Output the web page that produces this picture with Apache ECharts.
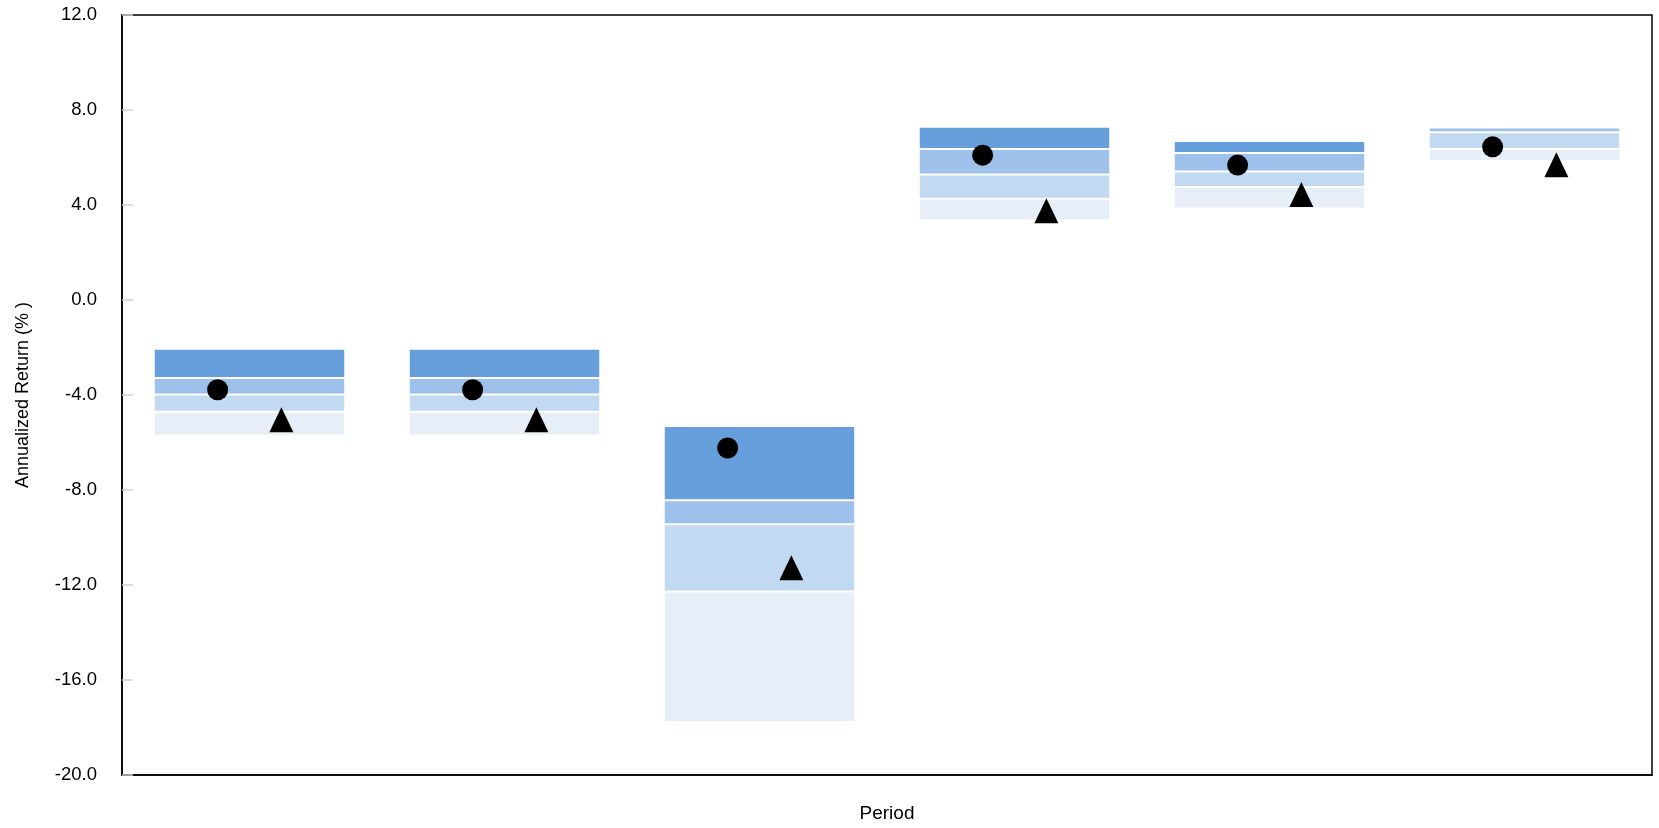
<!DOCTYPE html>
<html>
<head>
<meta charset="utf-8">
<script src="https://cdn.jsdelivr.net/npm/echarts@6/dist/echarts.min.js"></script>
<style>
html,body{margin:0;padding:0;background:#fff;}
#chart{width:1659px;height:828px;}
</style>
</head>
<body>
<div id="chart"></div>
<script>
const categories = ['Period 1', 'Period 2', 'Period 3', 'Period 4', 'Period 5', 'Period 6'];
const p05 = [-2.05, -2.05, -5.30, 7.29, 6.70, 7.26];
const p25 = [-3.28, -3.28, -8.43, 6.36, 6.19, 7.26];
const p50 = [-3.98, -3.98, -9.44, 5.28, 5.41, 7.06];
const p75 = [-4.71, -4.71, -12.27, 4.26, 4.76, 6.36];
const p95 = [-5.70, -5.70, -17.77, 3.36, 3.85, 5.85];
const portfolio = [-3.78, -3.78, -6.23, 6.10, 5.68, 6.45];
const benchmark = [-5.04, -5.04, -11.27, 3.76, 4.44, 5.70];
const yTicks = { min: -20, max: 12, interval: 4 };

const bandColors = ['#669fdb', '#9dc1ea', '#c2d9f2', '#e6eef8'];
const FONT = "'Liberation Sans', Arial, sans-serif";

const boxData = categories.map((c, i) => [i, p05[i], p25[i], p50[i], p75[i], p95[i]]);
const markerData = categories.map((c, i) => [i, portfolio[i], benchmark[i]]);

const chart = echarts.init(document.getElementById('chart'), null, { renderer: 'canvas' });
chart.setOption({
  animation: false,
  backgroundColor: '#fff',
  grid: { left: 122, right: 7, top: 15, bottom: 51, show: true, borderColor: '#000', borderWidth: 1.5, backgroundColor: 'transparent' },
  xAxis: {
    type: 'category',
    data: categories,
    name: 'Period',
    nameLocation: 'middle',
    nameGap: 29,
    nameTextStyle: { fontFamily: FONT, fontSize: 19, color: '#000' },
    axisLine: { show: true, onZero: false, lineStyle: { color: '#000', width: 1.5 } },
    axisTick: { show: false },
    axisLabel: { show: false },
    splitLine: { show: false }
  },
  yAxis: {
    type: 'value',
    min: yTicks.min, max: yTicks.max, interval: yTicks.interval,
    name: 'Annualized Return (% )',
    nameLocation: 'middle',
    nameGap: 90,
    nameTextStyle: { fontFamily: FONT, fontSize: 18, color: '#000' },
    axisLine: { show: true, lineStyle: { color: '#000', width: 1.5 } },
    axisTick: { show: true, inside: true, length: 11, lineStyle: { color: '#d0d0d0', width: 1.5 } },
    axisLabel: { fontFamily: FONT, fontSize: 18.5, color: '#000', margin: 25, formatter: v => v.toFixed(1) },
    splitLine: { show: false }
  },
  series: [
    {
      type: 'custom',
      data: boxData,
      encode: { x: 0, y: [1, 2, 3, 4, 5] },
      renderItem: function (params, api) {
        const idx = api.value(0);
        const band = api.size([1, 0])[0];
        const w = band * 0.743;
        const cx = api.coord([idx, 0])[0];
        const vals = [api.value(1), api.value(2), api.value(3), api.value(4), api.value(5)];
        const children = [];
        for (let k = 0; k < 4; k++) {
          const yTop = api.coord([idx, vals[k]])[1];
          const yBot = api.coord([idx, vals[k + 1]])[1];
          const h = yBot - yTop - 2;
          if (h <= 0) continue;
          children.push({
            type: 'rect',
            shape: { x: cx - w / 2, y: yTop + 1, width: w, height: h },
            style: { fill: bandColors[k] }
          });
        }
        return { type: 'group', children: children };
      },
      z: 2
    },
    {
      type: 'custom',
      data: markerData,
      encode: { x: 0, y: [1, 2] },
      renderItem: function (params, api) {
        const idx = api.value(0);
        const band = api.size([1, 0])[0];
        const off = band * 0.125;
        const pc = api.coord([idx, api.value(1)]);
        const bc = api.coord([idx, api.value(2)]);
        const tw = 24, th = 25;
        return {
          type: 'group',
          children: [
            { type: 'circle', shape: { cx: pc[0] - off, cy: pc[1], r: 10.5 }, style: { fill: '#000' } },
            { type: 'polygon', shape: { points: [
                [bc[0] + off, bc[1] - th / 2],
                [bc[0] + off + tw / 2, bc[1] + th / 2],
                [bc[0] + off - tw / 2, bc[1] + th / 2]
              ] }, style: { fill: '#000' } }
          ]
        };
      },
      z: 3
    }
  ]
});
</script>
</body>
</html>
